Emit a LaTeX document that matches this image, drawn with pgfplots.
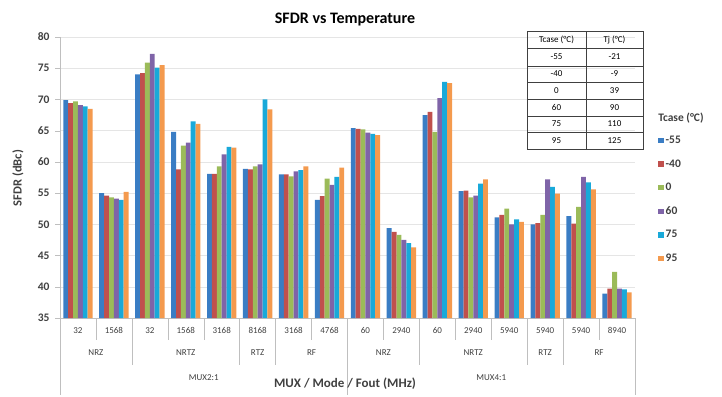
\documentclass[border=0pt]{standalone}
\usepackage{pgfplots}
\pgfplotsset{compat=1.18}
\usepackage{pgfplotstable}
\usepackage{fontspec}
\setmainfont{Carlito}

\definecolor{cA}{HTML}{3A7DC4}
\definecolor{cB}{HTML}{C0504D}
\definecolor{cC}{HTML}{9BBB59}
\definecolor{cD}{HTML}{7F64A8}
\definecolor{cE}{HTML}{19A9D9}
\definecolor{cF}{HTML}{F49A4E}
\definecolor{txt}{HTML}{404040}
\definecolor{sep}{HTML}{BFBFBF}

\pgfplotstableread{
x m55 m40 p0 p60 p75 p95
0 69.9 69.4 69.7 69.1 68.9 68.5
1 55.0 54.6 54.3 54.1 53.9 55.2
2 74.0 74.2 75.9 77.3 75.1 75.5
3 64.8 58.8 62.6 63.1 66.5 66.1
4 58.1 58.1 59.3 61.2 62.4 62.3
5 58.9 58.8 59.3 59.6 70.0 68.4
6 58.0 58.0 57.7 58.5 58.7 59.3
7 53.9 54.5 57.3 56.3 57.6 59.1
8 65.4 65.3 65.2 64.7 64.5 64.3
9 49.4 48.8 48.3 47.5 47.0 46.3
10 67.5 68.0 64.8 70.2 72.8 72.6
11 55.3 55.4 54.3 54.6 56.5 57.2
12 51.1 51.5 52.5 50.0 50.8 50.4
13 50.0 50.2 51.5 57.2 56.0 54.9
14 51.3 50.1 52.8 57.6 56.7 55.6
15 38.9 39.7 42.4 39.7 39.6 39.1
}\datatable

\begin{document}
\begin{tikzpicture}
\useasboundingbox (0pt,0pt) rectangle (722pt,396pt);
\begin{axis}[
  at={(60pt,78pt)}, anchor=south west,
  scale only axis, width=575pt, height=281pt,
  xmin=-0.5, xmax=15.5, ymin=35, ymax=80,
  ybar=0pt, bar width=0.136,
  clip=false,
  axis x line*=bottom, axis y line*=left,
  axis line style={sep,-},
  ytick={35,40,...,80},
  ymajorgrids, grid style={black!10},
  y tick style={sep}, tick align=outside, major tick length=5pt,
  yticklabel style={font=\fontsize{11.5}{12}\selectfont\bfseries, text=txt, xshift=-2pt},
  /pgf/number format/assume math mode=true,
  xtick={0,...,15},
  xticklabels={32,1568,32,1568,3168,8168,3168,4768,60,2940,60,2940,5940,5940,5940,8940},
  x tick style={draw=none},
  xticklabel style={font=\fontsize{9}{10}\selectfont, text=txt, yshift=-1pt},
  legend style={at={(1.04,0.655)}, anchor=north west, draw=none, fill=none,
    font=\fontsize{11.5}{12}\selectfont\bfseries, text=txt,
    row sep=10.5pt, inner sep=0pt, cells={anchor=west}},
  legend image code/.code={\path[#1,draw=none] (0pt,-2.7pt) rectangle (5.5pt,2.7pt);},
]
\addplot[fill=cA, draw=none] table[x=x, y=m55] {\datatable};
\addplot[fill=cB, draw=none] table[x=x, y=m40] {\datatable};
\addplot[fill=cC, draw=none] table[x=x, y=p0] {\datatable};
\addplot[fill=cD, draw=none] table[x=x, y=p60] {\datatable};
\addplot[fill=cE, draw=none] table[x=x, y=p75] {\datatable};
\addplot[fill=cF, draw=none] table[x=x, y=p95] {\datatable};
\legend{-55,-40,0,60,75,95}

% category separators
\pgfplotsinvokeforeach{0.5,2.5,3.5,6.5,8.5,10.5,11.5,14.5}{
  \draw[sep] (axis cs:#1,35) -- ++(0pt,-22pt);
}
\pgfplotsinvokeforeach{1.5,4.5,5.5,9.5,12.5,13.5}{
  \draw[sep] (axis cs:#1,35) -- ++(0pt,-47pt);
}
\pgfplotsinvokeforeach{-0.5,7.5,15.5}{
  \draw[sep] (axis cs:#1,35) -- ++(0pt,-77pt);
}
% mode labels
\begin{scope}[every node/.style={font=\fontsize{9}{10}\selectfont, text=txt}]
\node at (axis cs:0.5,35)  [yshift=-35pt] {NRZ};
\node at (axis cs:3,35)    [yshift=-35pt] {NRTZ};
\node at (axis cs:5,35)    [yshift=-35pt] {RTZ};
\node at (axis cs:6.5,35)  [yshift=-35pt] {RF};
\node at (axis cs:8.5,35)  [yshift=-35pt] {NRZ};
\node at (axis cs:11,35)   [yshift=-35pt] {NRTZ};
\node at (axis cs:13,35)   [yshift=-35pt] {RTZ};
\node at (axis cs:14.5,35) [yshift=-35pt] {RF};
\node at (axis cs:3.5,35)  [yshift=-60pt] {MUX2:1};
\node at (axis cs:11.5,35) [yshift=-60pt] {MUX4:1};
\end{scope}
\end{axis}

% title and axis labels
\node[font=\fontsize{16}{18}\selectfont\bfseries] at (345pt,376pt) {SFDR vs Temperature};
\node[font=\fontsize{12.5}{14}\selectfont\bfseries, text=txt, rotate=90] at (18pt,218pt) {SFDR (dBc)};
\node[font=\fontsize{13}{15}\selectfont\bfseries, text=txt] at (345pt,12pt) {MUX / Mode / Fout (MHz)};

% legend title
\node[font=\fontsize{11.5}{12}\selectfont\bfseries, text=txt] at (681pt,278pt) {Tcase (°C)};

% temperature table
\begin{scope}[every node/.style={font=\fontsize{9}{10}\selectfont, text=black}]
\draw[black!75, line width=0.7pt] (527pt,247pt) rectangle (643pt,365pt);
\draw[black!75, line width=0.6pt] (586pt,247pt) -- (586pt,365pt);
\foreach \yy in {348,330,314,297,280,264} {
  \draw[black!75, line width=0.6pt] (527pt,\yy pt) -- (643pt,\yy pt);
}
\node at (556.5pt,356.5pt) {Tcase (°C)};
\node at (614.5pt,356.5pt) {Tj (°C)};
\node at (556.5pt,339pt) {-55};   \node at (614.5pt,339pt) {-21};
\node at (556.5pt,322pt) {-40};   \node at (614.5pt,322pt) {-9};
\node at (556.5pt,305.5pt) {0};   \node at (614.5pt,305.5pt) {39};
\node at (556.5pt,288.5pt) {60};  \node at (614.5pt,288.5pt) {90};
\node at (556.5pt,272pt) {75};    \node at (614.5pt,272pt) {110};
\node at (556.5pt,255.5pt) {95};  \node at (614.5pt,255.5pt) {125};
\end{scope}
\end{tikzpicture}
\end{document}
